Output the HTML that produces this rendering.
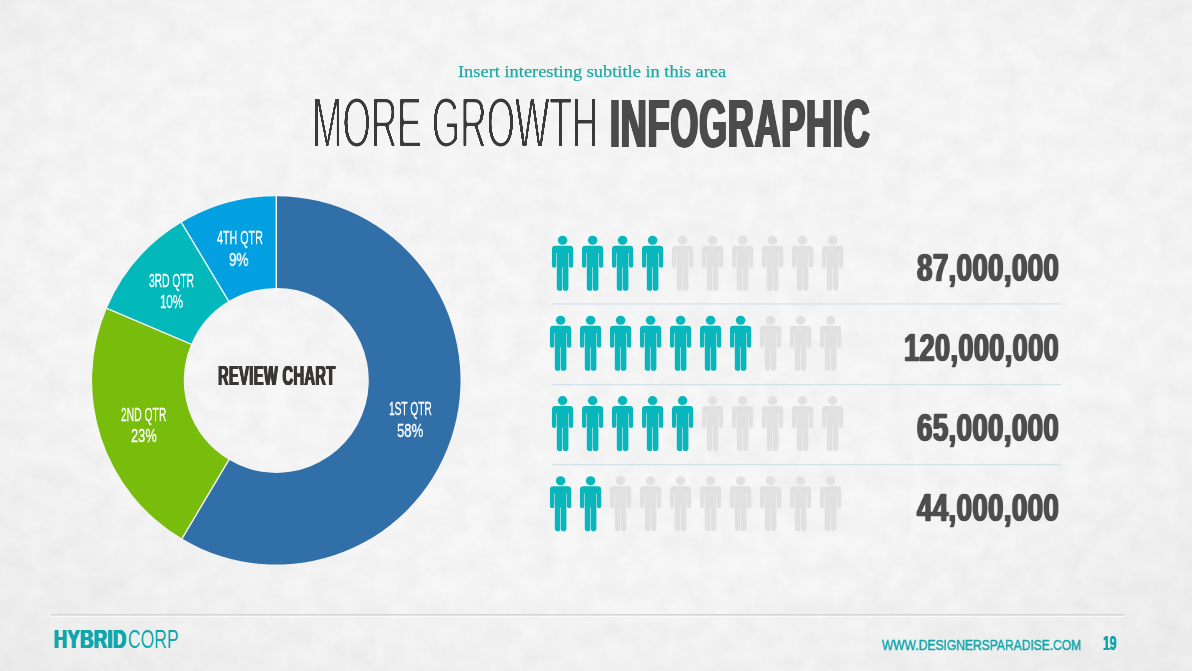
<!DOCTYPE html>
<html lang="en">
<head>
<meta charset="utf-8">
<title>More Growth Infographic</title>
<style>
html,body{margin:0;padding:0;}
body{width:1192px;height:671px;overflow:hidden;position:relative;font-family:"Liberation Sans",sans-serif;background:#f7f7f7;}
.bg{position:absolute;left:0;top:0;width:1192px;height:671px;
background:radial-gradient(ellipse 80% 85% at 50% 40%, #f7f7f7 0%, #f7f7f7 55%, #ececec 100%);}
.art{position:absolute;left:0;top:0;}
.t{position:absolute;white-space:nowrap;margin:0;padding:0;transform-origin:0 0;will-change:transform;}
</style>
</head>
<body>
<div class="bg"></div>
<svg width="0" height="0" style="position:absolute"><defs>
<filter id="thin" x="-2%" y="-5%" width="104%" height="110%" color-interpolation-filters="sRGB"><feGaussianBlur stdDeviation="0.4 1.2"/><feComponentTransfer><feFuncA type="linear" slope="4.5" intercept="-3.1"/></feComponentTransfer></filter>
<filter id="paper" x="0" y="0" width="100%" height="100%" color-interpolation-filters="sRGB"><feTurbulence type="fractalNoise" baseFrequency="0.045" numOctaves="4" seed="11"/><feColorMatrix type="matrix" values="0 0 0 0 0  0 0 0 0 0  0 0 0 0 0  0.05 0 0 0 -0.012"/></filter>
</defs></svg>
<svg class="art" width="1192" height="671"><rect width="1192" height="671" filter="url(#paper)"/></svg>
<svg class="art" width="1192" height="671" viewBox="0 0 1192 671"><defs><g id="p"><ellipse cx="0" cy="4.4" rx="4.75" ry="4.5"/><path d="M-7.25 9.9 H7.25 Q10.65 9.9 10.65 13.3 V29.9 Q10.65 31.9 8.5 31.9 Q6.35 31.9 6.35 29.9 V17.2 H5.8 V52.5 Q5.8 54.9 3.4 54.9 H1.74 Q0.3 54.9 0.3 52.5 V31.3 H-0.3 V52.5 Q-0.3 54.9 -1.74 54.9 H-3.4 Q-5.8 54.9 -5.8 52.5 V17.2 H-6.35 V29.9 Q-6.35 31.9 -8.5 31.9 Q-10.65 31.9 -10.65 29.9 V13.3 Q-10.65 9.9 -7.25 9.9 Z"/></g></defs><path d="M276.30 196.20 A184.2 184.2 0 1 1 181.98 538.62 L228.94 459.85 A92.5 92.5 0 1 0 276.30 287.90 Z" fill="#306FA8"/><path d="M181.98 538.62 A184.2 184.2 0 0 1 106.74 308.43 L191.15 344.26 A92.5 92.5 0 0 0 228.94 459.85 Z" fill="#79BD0C"/><path d="M106.74 308.43 A184.2 184.2 0 0 1 181.43 222.51 L228.66 301.11 A92.5 92.5 0 0 0 191.15 344.26 Z" fill="#03B8BB"/><path d="M181.43 222.51 A184.2 184.2 0 0 1 276.30 196.20 L276.30 287.90 A92.5 92.5 0 0 0 228.66 301.11 Z" fill="#02A0E1"/><line x1="276.30" y1="288.40" x2="276.30" y2="195.70" stroke="#F6F8F8" stroke-width="1.4"/><line x1="229.19" y1="459.42" x2="181.73" y2="539.05" stroke="#F6F8F8" stroke-width="1.4"/><line x1="191.61" y1="344.45" x2="106.28" y2="308.23" stroke="#F6F8F8" stroke-width="1.4"/><line x1="228.92" y1="301.54" x2="181.17" y2="222.08" stroke="#F6F8F8" stroke-width="1.4"/><rect x="552" y="303.3" width="509" height="1.3" fill="#D3E1E8"/><rect x="552" y="383.9" width="509" height="1.3" fill="#D3E1E8"/><rect x="552" y="463.9" width="509" height="1.3" fill="#D3E1E8"/><g fill="#07B7BB"><use href="#p" x="562.6" y="235.9"/><use href="#p" x="592.6" y="235.9"/><use href="#p" x="622.6" y="235.9"/><use href="#p" x="652.6" y="235.9"/></g><g fill="#E1E1E1"><use href="#p" x="682.6" y="235.9"/><use href="#p" x="712.6" y="235.9"/><use href="#p" x="742.6" y="235.9"/><use href="#p" x="772.6" y="235.9"/><use href="#p" x="802.6" y="235.9"/><use href="#p" x="832.6" y="235.9"/></g><g fill="#07B7BB"><use href="#p" x="560.6" y="315.9"/><use href="#p" x="590.6" y="315.9"/><use href="#p" x="620.6" y="315.9"/><use href="#p" x="650.6" y="315.9"/><use href="#p" x="680.6" y="315.9"/><use href="#p" x="710.6" y="315.9"/><use href="#p" x="740.6" y="315.9"/></g><g fill="#E1E1E1"><use href="#p" x="770.6" y="315.9"/><use href="#p" x="800.6" y="315.9"/><use href="#p" x="830.6" y="315.9"/></g><g fill="#07B7BB"><use href="#p" x="562.6" y="396.2"/><use href="#p" x="592.6" y="396.2"/><use href="#p" x="622.6" y="396.2"/><use href="#p" x="652.6" y="396.2"/><use href="#p" x="682.6" y="396.2"/></g><g fill="#E1E1E1"><use href="#p" x="712.6" y="396.2"/><use href="#p" x="742.6" y="396.2"/><use href="#p" x="772.6" y="396.2"/><use href="#p" x="802.6" y="396.2"/><use href="#p" x="832.6" y="396.2"/></g><g fill="#07B7BB"><use href="#p" x="560.6" y="476.3"/><use href="#p" x="590.6" y="476.3"/></g><g fill="#E1E1E1"><use href="#p" x="620.6" y="476.3"/><use href="#p" x="650.6" y="476.3"/><use href="#p" x="680.6" y="476.3"/><use href="#p" x="710.6" y="476.3"/><use href="#p" x="740.6" y="476.3"/><use href="#p" x="770.6" y="476.3"/><use href="#p" x="800.6" y="476.3"/><use href="#p" x="830.6" y="476.3"/></g><rect x="51" y="614.1" width="1073.3" height="1.5" fill="#D0D1D1"/><rect x="51" y="615.8" width="1073.3" height="1.1" fill="#FBFBFB"/></svg>
<div class="t " id="sub" style="left:457.85px;top:63.13px;font:normal 17.3px/17.3px 'Liberation Serif',serif;color:#1FA9A6;transform:scaleX(1.0642);-webkit-text-stroke:0.25px currentColor;">Insert interesting subtitle in this area</div>
<div class="t " id="t1" style="left:311.70px;top:88.34px;font:normal 70.4px/70.4px 'Liberation Sans',sans-serif;color:#3a3a3a;transform:scaleX(0.5191);filter:url(#thin);">MORE GROWTH</div>
<div class="t " id="t2" style="left:609.91px;top:89.77px;font:bold 67.7px/67.7px 'Liberation Sans',sans-serif;color:#4b4b4b;transform:scaleX(0.5300);text-shadow:1.1px 0 0 currentColor,-1.1px 0 0 currentColor,2.2px 0 0 currentColor,-2.2px 0 0 currentColor;letter-spacing:1.6px;">INFOGRAPHIC</div>
<div class="t num" id="n1" style="left:917.18px;top:248.86px;font:bold 38.6px/38.6px 'Liberation Sans',sans-serif;color:#4d4d4d;transform:scaleX(0.7179);text-shadow:1.2px 0 0 currentColor,-1.2px 0 0 currentColor;-webkit-text-stroke:0.4px currentColor;letter-spacing:0.5px;">87,000,000</div>
<div class="t num" id="n2" style="left:904.31px;top:328.61px;font:bold 38.6px/38.6px 'Liberation Sans',sans-serif;color:#4d4d4d;transform:scaleX(0.7046);text-shadow:1.2px 0 0 currentColor,-1.2px 0 0 currentColor;-webkit-text-stroke:0.4px currentColor;letter-spacing:0.5px;">120,000,000</div>
<div class="t num" id="n3" style="left:917.33px;top:408.66px;font:bold 38.6px/38.6px 'Liberation Sans',sans-serif;color:#4d4d4d;transform:scaleX(0.7176);text-shadow:1.2px 0 0 currentColor,-1.2px 0 0 currentColor;-webkit-text-stroke:0.4px currentColor;letter-spacing:0.5px;">65,000,000</div>
<div class="t num" id="n4" style="left:917.39px;top:488.61px;font:bold 38.6px/38.6px 'Liberation Sans',sans-serif;color:#4d4d4d;transform:scaleX(0.7177);text-shadow:1.2px 0 0 currentColor,-1.2px 0 0 currentColor;-webkit-text-stroke:0.4px currentColor;letter-spacing:0.5px;">44,000,000</div>
<div class="t " id="q4a" style="left:217.04px;top:228.96px;font:normal 18.2px/18.2px 'Liberation Sans',sans-serif;color:#fff;transform:scaleX(0.5891);-webkit-text-stroke:0.35px currentColor;">4TH QTR</div>
<div class="t " id="q4b" style="left:229.22px;top:250.73px;font:normal 18.2px/18.2px 'Liberation Sans',sans-serif;color:#fff;transform:scaleX(0.7412);-webkit-text-stroke:0.35px currentColor;">9%</div>
<div class="t " id="q3a" style="left:148.62px;top:271.70px;font:normal 18.2px/18.2px 'Liberation Sans',sans-serif;color:#fff;transform:scaleX(0.5632);-webkit-text-stroke:0.35px currentColor;">3RD QTR</div>
<div class="t " id="q3b" style="left:160.38px;top:293.32px;font:normal 18.2px/18.2px 'Liberation Sans',sans-serif;color:#fff;transform:scaleX(0.6319);-webkit-text-stroke:0.35px currentColor;">10%</div>
<div class="t " id="q2a" style="left:121.47px;top:405.70px;font:normal 18.2px/18.2px 'Liberation Sans',sans-serif;color:#fff;transform:scaleX(0.5668);-webkit-text-stroke:0.35px currentColor;">2ND QTR</div>
<div class="t " id="q2b" style="left:131.18px;top:427.41px;font:normal 18.2px/18.2px 'Liberation Sans',sans-serif;color:#fff;transform:scaleX(0.7072);-webkit-text-stroke:0.35px currentColor;">23%</div>
<div class="t " id="q1a" style="left:389.37px;top:399.70px;font:normal 18.2px/18.2px 'Liberation Sans',sans-serif;color:#fff;transform:scaleX(0.5599);-webkit-text-stroke:0.35px currentColor;">1ST QTR</div>
<div class="t " id="q1b" style="left:396.93px;top:421.70px;font:normal 18.2px/18.2px 'Liberation Sans',sans-serif;color:#fff;transform:scaleX(0.7216);-webkit-text-stroke:0.35px currentColor;">58%</div>
<div class="t " id="rc" style="left:217.81px;top:362.80px;font:bold 27.0px/27.0px 'Liberation Sans',sans-serif;color:#3a3636;transform:scaleX(0.5422);text-shadow:0.6px 0 0 currentColor,-0.6px 0 0 currentColor,1.1px 0 0 currentColor,-1.1px 0 0 currentColor;letter-spacing:0.7px;">REVIEW CHART</div>
<div class="t " id="f1" style="left:53.62px;top:627.40px;font:bold 25.2px/25.2px 'Liberation Sans',sans-serif;color:#10A6AC;transform:scaleX(0.7316);text-shadow:0.5px 0 0 currentColor,-0.5px 0 0 currentColor,0.9px 0 0 currentColor,-0.9px 0 0 currentColor;letter-spacing:0.5px;">HYBRID</div>
<div class="t " id="f2" style="left:127.96px;top:627.20px;font:normal 25.2px/25.2px 'Liberation Sans',sans-serif;color:#10A6AC;transform:scaleX(0.6981);">CORP</div>
<div class="t " id="f3" style="left:882.01px;top:638.29px;font:normal 14.9px/14.9px 'Liberation Sans',sans-serif;color:#10A6AC;transform:scaleX(0.8094);-webkit-text-stroke:0.45px currentColor;">WWW.DESIGNERSPARADISE.COM</div>
<div class="t " id="f4" style="left:1103.22px;top:633.00px;font:bold 20px/20px 'Liberation Sans',sans-serif;color:#10A6AC;transform:scaleX(0.6098);text-shadow:0.5px 0 0 currentColor,-0.5px 0 0 currentColor;">19</div>
</body>
</html>
